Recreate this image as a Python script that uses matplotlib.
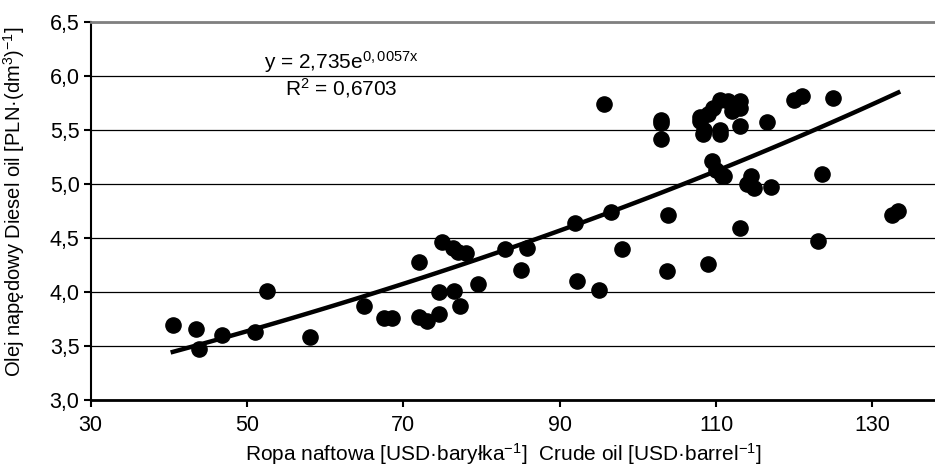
import numpy as np
import matplotlib.pyplot as plt

plt.rcParams['font.family'] = ['Liberation Sans', 'DejaVu Sans']
plt.rcParams['mathtext.fontset'] = 'custom'
plt.rcParams['mathtext.rm'] = 'Liberation Sans'
plt.rcParams['mathtext.it'] = 'Liberation Sans'

# crude oil price [USD/barrel] vs diesel price [PLN/dm3]
crude = [40.5, 43.5, 43.8, 46.8, 51.0, 52.5, 58.0, 65.0, 67.5, 68.5,
         72.0, 72.0, 73.0, 74.5, 74.5, 75.0, 76.3, 76.5, 77.0, 77.2,
         78.0, 79.5, 83.0, 85.0, 85.8, 92.0, 92.2, 95.0, 95.6, 96.5,
         98.0, 103.0, 103.0, 103.0, 103.8, 103.7, 108.0, 108.0, 108.3, 108.5,
         109.0, 109.0, 109.5, 109.6, 110.0, 110.5, 110.5, 110.5, 110.8, 111.0,
         111.5, 112.0, 113.0, 113.0, 113.0, 113.0, 114.0, 114.5, 114.8, 116.5,
         117.0, 120.0, 121.0, 123.0, 123.6, 125.0, 132.5, 133.3]
diesel = [3.69, 3.66, 3.47, 3.60, 3.63, 4.01, 3.58, 3.87, 3.76, 3.76,
          4.28, 3.77, 3.73, 4.00, 3.80, 4.46, 4.41, 4.01, 4.37, 3.87,
          4.36, 4.07, 4.40, 4.20, 4.41, 4.64, 4.10, 4.02, 5.74, 4.74,
          4.40, 5.59, 5.56, 5.42, 4.71, 4.19, 5.58, 5.62, 5.46, 5.50,
          4.26, 5.65, 5.21, 5.70, 5.13, 5.78, 5.50, 5.46, 5.07, 5.07,
          5.77, 5.68, 5.54, 5.77, 4.59, 5.70, 5.00, 5.07, 4.96, 5.57,
          4.97, 5.78, 5.81, 4.47, 5.09, 5.80, 4.71, 4.75]

# exponential trendline y = a*exp(b*x)
a, b = 2.735, 0.0057

fig = plt.figure(figsize=(9.35, 4.67), dpi=100)
ax = fig.add_axes([0.097, 0.1435, 0.903, 0.8095])

ax.scatter(crude, diesel, s=120, color='black', zorder=3)
xt = np.linspace(min(crude), max(crude), 100)
ax.plot(xt, a * np.exp(b * xt), color='black', lw=3.2, zorder=4)

ax.set_xlim(30, 138)
ax.set_ylim(3.0, 6.5)
ax.set_xticks([30, 50, 70, 90, 110, 130])
ax.set_yticks(np.arange(3.0, 6.51, 0.5))
ax.yaxis.set_major_formatter(plt.FuncFormatter(lambda v, p: ('%.1f' % v).replace('.', ',')))
ax.tick_params(labelsize=15.5, direction='out', length=5, width=1.5, color='black')
ax.tick_params(axis='x', pad=6)
ax.tick_params(axis='y', pad=3)

ax.grid(axis='y', color='black', lw=0.9)
ax.set_axisbelow(True)
ax.spines['right'].set_visible(False)
ax.spines['top'].set_color('#808080')
ax.spines['top'].set_linewidth(2)
ax.spines['left'].set_linewidth(1.5)
ax.spines['bottom'].set_linewidth(2)

ax.set_xlabel(r'Ropa naftowa [USD·baryłka$^{-1}$]  Crude oil [USD·barrel$^{-1}$]', fontsize=15)
ax.set_ylabel(r'Olej napędowy Diesel oil [PLN·(dm$^{3}$)$^{-1}$]', fontsize=14.5)
ax.xaxis.set_label_coords(0.489, -0.108)
ax.yaxis.set_label_coords(-0.076, 0.525)

ax.text(62, 6.13, r'y = 2,735e$^{\mathregular{0,0057x}}$', fontsize=15, ha='center', va='center')
ax.text(62, 5.89, r'R$^{\mathregular{2}}$ = 0,6703', fontsize=15, ha='center', va='center')

fig.savefig('out.png', dpi=100)
